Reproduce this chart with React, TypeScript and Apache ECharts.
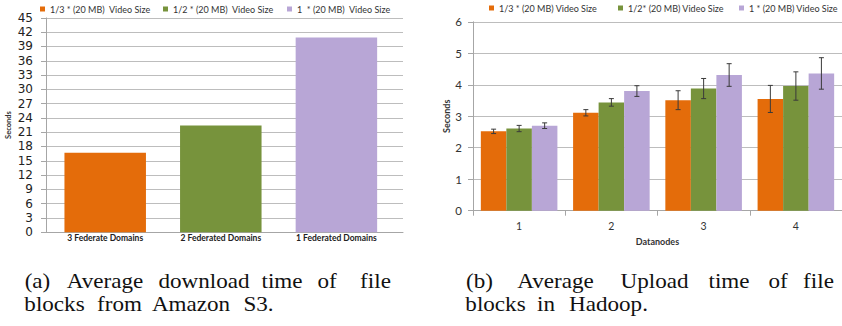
import React, { useEffect, useRef } from 'react';
import * as echarts from 'echarts';

// ---------- data ----------
const leftCategories = ['3 Federate Domains', '2 Federated Domains', '1 Federated Domains'];
const leftSeriesNames = ['1/3 * (20 MB)  Video Size', '1/2 * (20 MB)  Video Size', '1  * (20 MB)  Video Size'];
const leftValues = [16.7, 22.4, 40.9];

const rightCategories = ['1', '2', '3', '4'];
const rightSeriesNames = ['1/3 * (20 MB) Video Size', '1/2* (20 MB) Video Size', '1 * (20 MB) Video Size'];
const oneThirdValues = [2.52, 3.11, 3.51, 3.55];
const halfValues = [2.61, 3.44, 3.88, 3.96];
const fullValues = [2.7, 3.8, 4.31, 4.36];
const oneThirdErrors = [0.07, 0.1, 0.3, 0.43];
const halfErrors = [0.1, 0.12, 0.32, 0.45];
const fullErrors = [0.09, 0.17, 0.36, 0.5];

const captionA = [
  ['(a)', 'Average', 'download', 'time', 'of', 'file'],
  ['blocks', 'from', 'Amazon', 'S3.'],
];
const captionB = [
  ['(b)', 'Average', 'Upload', 'time', 'of', 'file'],
  ['blocks', 'in', 'Hadoop.'],
];

// ---------- layout / style ----------
const COLORS = ['#E46C0A', '#77933C', '#B8A6D6'];
// word centre x positions (layout)
const captionAX = [[37.5, 105, 204, 282, 327, 375.5], [54.5, 119.5, 191, 258.5]];
const captionBX = [[479.5, 555.5, 654.5, 729, 778, 818.5], [495.5, 546, 608.5]];
const captionY = [280.5, 303.5];
const BAR_GAP_FRAC = 0.17;

export default function App() {
  const ref = useRef<HTMLDivElement>(null);

  useEffect(() => {
    if (!ref.current) return;
    const chart = echarts.init(ref.current, undefined, { renderer: 'svg' });

    const rightValues = [oneThirdValues, halfValues, fullValues];
    const rightErrors = [oneThirdErrors, halfErrors, fullErrors];

    const leftBarSeries = leftSeriesNames.map((name, i) => ({
      type: 'bar',
      name,
      xAxisIndex: 1,
      yAxisIndex: 1,
      stack: 'left',
      barWidth: 81.5,
      itemStyle: { color: COLORS[i] },
      data: leftCategories.map((_, j) => (j === i ? leftValues[i] : null)),
    }));

    const rightBarSeries = rightSeriesNames.map((name, i) => ({
      type: 'bar',
      name,
      xAxisIndex: 2,
      yAxisIndex: 2,
      barGap: '0%',
      barCategoryGap: BAR_GAP_FRAC * 100 + '%',
      itemStyle: { color: COLORS[i] },
      data: rightValues[i],
    }));

    const errorSeries = rightSeriesNames.map((_, k) => ({
      type: 'custom',
      xAxisIndex: 2,
      yAxisIndex: 2,
      z: 10,
      encode: { x: 0, y: [1, 2] },
      data: rightValues[k].map((v, j) => [j, v - rightErrors[k][j], v + rightErrors[k][j]]),
      renderItem: (params: any, api: any) => {
        const x = api.value(0);
        const lo = api.value(1);
        const hi = api.value(2);
        const catW = api.size([1, 0])[0];
        const barW = (catW * (1 - BAR_GAP_FRAC)) / 3;
        const off = (k - 1) * barW;
        const pLo = api.coord([x, lo]);
        const pHi = api.coord([x, hi]);
        const cx = pLo[0] + off;
        const cap = 2.5;
        const st = { stroke: '#3a3a3a', lineWidth: 1 };
        return {
          type: 'group',
          children: [
            { type: 'line', shape: { x1: cx, y1: pHi[1], x2: cx, y2: pLo[1] }, style: st },
            { type: 'line', shape: { x1: cx - cap, y1: pHi[1], x2: cx + cap, y2: pHi[1] }, style: st },
            { type: 'line', shape: { x1: cx - cap, y1: pLo[1], x2: cx + cap, y2: pLo[1] }, style: st },
          ],
        };
      },
    }));

    const legendText = { fontFamily: 'Lato', fontSize: 9, color: '#333', lineHeight: 10 };
    const leftLegendX = [40, 163, 287];
    const rightLegendX = [489, 618, 739];
    const legends = [
      ...leftSeriesNames.map((n, i) => ({
        data: [n], left: leftLegendX[i], top: 4, padding: 0, icon: 'rect',
        itemWidth: 5, itemHeight: 5, textStyle: legendText, selectedMode: false,
      })),
      ...rightSeriesNames.map((n, i) => ({
        data: [n], left: rightLegendX[i], top: 3, padding: 0, icon: 'rect',
        itemWidth: 5, itemHeight: 5, textStyle: legendText, selectedMode: false,
      })),
    ];

    const captionEls: any[] = [];
    const addCaption = (lines: string[][], xs: number[][]) => {
      lines.forEach((words, li) => {
        words.forEach((w, wi) => {
          captionEls.push({
            type: 'text',
            x: xs[li][wi],
            y: captionY[li],
            scaleX: 1.05,
            style: {
              text: w,
              fontFamily: 'Liberation Serif',
              fontSize: 22,
              fill: '#111',
              align: 'center',
              verticalAlign: 'middle',
            },
          });
        });
      });
    };
    addCaption(captionA, captionAX);
    addCaption(captionB, captionBX);

    const gridLine = { lineStyle: { color: '#bdbdbd', width: 1 } };
    const axisLineStyle = { show: true, lineStyle: { color: '#a6a6a6' } };

    chart.setOption({
      animation: false,
      backgroundColor: '#fff',
      legend: legends,
      grid: [
        { left: 46, top: 17.9, width: 357, height: 214.3 },
        { left: 47.4, top: 17.9, width: 346.8, height: 214.3 },
        { left: 473, top: 21.8, width: 372, height: 188.9 },
      ],
      xAxis: [
        {
          gridIndex: 0, type: 'value', min: 0, max: 1,
          axisLine: axisLineStyle, axisTick: { show: false }, axisLabel: { show: false }, splitLine: { show: false },
        },
        {
          gridIndex: 1, type: 'category', data: leftCategories,
          axisLine: { show: false }, axisTick: { show: false },
          axisLabel: { fontFamily: 'Lato', fontWeight: 'bold', fontSize: 8.5, color: '#222', margin: 1.5 },
        },
        {
          gridIndex: 2, type: 'category', data: rightCategories,
          axisLine: axisLineStyle, axisTick: { show: true, length: 5, lineStyle: { color: '#a6a6a6' } },
          axisLabel: { fontFamily: 'Lato', fontSize: 10.5, color: '#333', margin: 10 },
          name: 'Datanodes', nameLocation: 'middle', nameGap: 23,
          nameTextStyle: { fontFamily: 'Lato', fontWeight: 'bold', fontSize: 9, color: '#333' },
        },
      ],
      yAxis: [
        {
          gridIndex: 0, type: 'value', min: 0, max: 45, interval: 3,
          axisLine: axisLineStyle, axisTick: { show: true, length: 5, lineStyle: { color: '#a6a6a6' } },
          axisLabel: { fontFamily: 'DejaVu Sans', fontSize: 12, color: '#222', margin: 13 },
          splitLine: gridLine,
          name: 'Seconds', nameLocation: 'middle', nameGap: 34,
          nameTextStyle: { fontFamily: 'Lato', fontWeight: 'bold', fontSize: 7.5, color: '#333' },
        },
        { gridIndex: 1, type: 'value', min: 0, max: 45, show: false },
        {
          gridIndex: 2, type: 'value', min: 0, max: 6, interval: 1,
          axisLine: axisLineStyle, axisTick: { show: true, length: 5, lineStyle: { color: '#a6a6a6' } },
          axisLabel: { fontFamily: 'Lato', fontSize: 11.5, color: '#333', margin: 11 },
          splitLine: gridLine,
          name: 'Seconds', nameLocation: 'middle', nameGap: 21,
          nameTextStyle: { fontFamily: 'Lato', fontWeight: 'bold', fontSize: 9, color: '#333' },
        },
      ],
      series: [...leftBarSeries, ...rightBarSeries, ...errorSeries],
      graphic: captionEls,
    });

    return () => chart.dispose();
  }, []);

  return (
    <div
      ref={ref}
      style={{ position: 'absolute', left: 0, top: 0, width: 842, height: 326 }}
    />
  );
}
